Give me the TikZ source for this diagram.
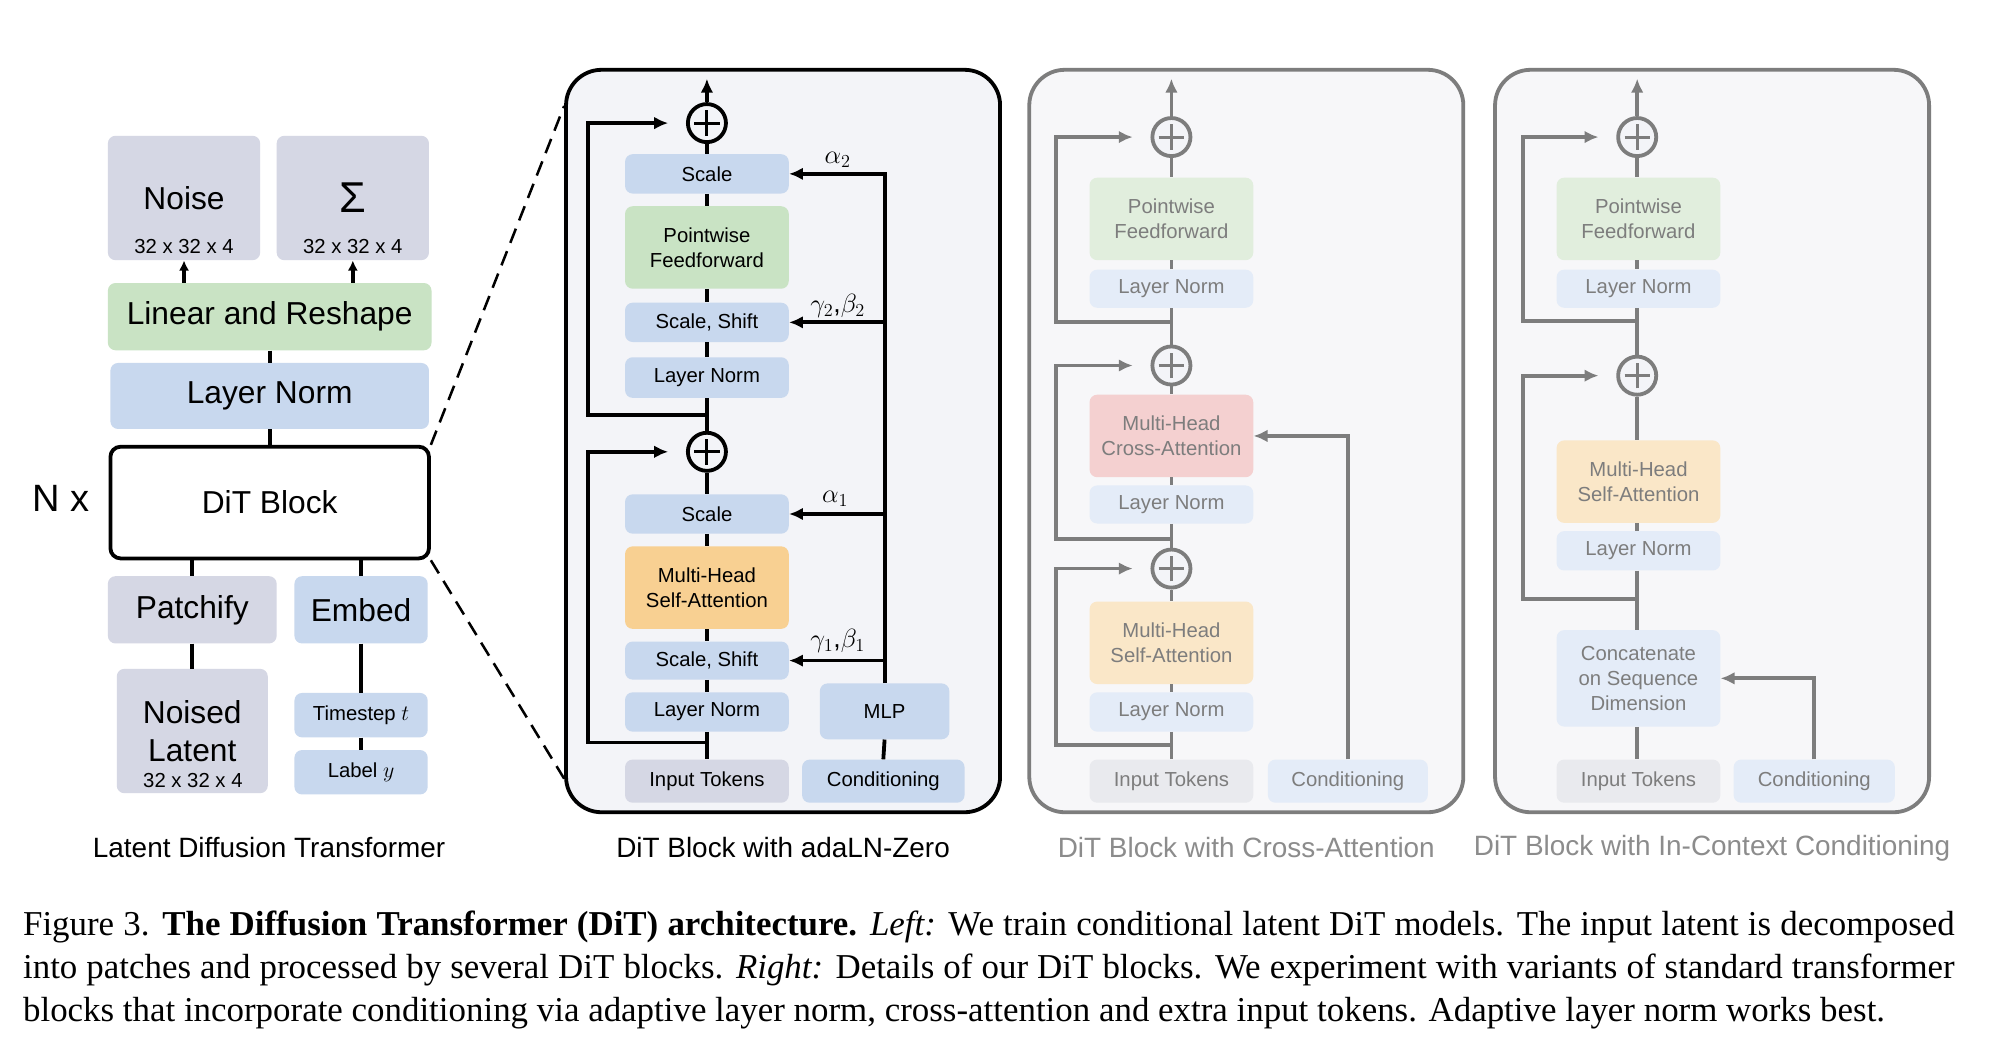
\documentclass[tikz,border=0pt]{standalone}
\usepackage{fontspec}
\setmainfont{Liberation Sans}
\newfontfamily\capfont{Liberation Serif}
\usetikzlibrary{arrows.meta}

\definecolor{grau}{HTML}{D5D7E4}
\definecolor{blau}{HTML}{C8D8EE}
\definecolor{gruen}{HTML}{C9E3C4}
\definecolor{orang}{HTML}{F8D092}
\definecolor{hgrau}{HTML}{E9EAEE}
\definecolor{hblau}{HTML}{E4ECF8}
\definecolor{hgruen}{HTML}{E1EEDD}
\definecolor{horang}{HTML}{FAE7C8}
\definecolor{hrot}{HTML}{F4D0D0}
\definecolor{panelbg}{HTML}{F3F4F8}
\definecolor{hpanelbg}{HTML}{F7F7F9}
\definecolor{linie}{HTML}{7D7D7D}
\definecolor{titelgrau}{HTML}{8C8C8C}

\tikzset{
	blk/.style={rounded corners=6pt, inner sep=0pt, align=center,
		minimum width=129pt, minimum height=31pt,
		font=\fontsize{16}{19.5}\selectfont},
	hoch/.style={minimum height=65pt},
	gross/.style={font=\fontsize{25}{30}\selectfont},
	conn/.style={line width=3pt},
	pfeil/.style={conn, -{Latex[length=11pt,width=10pt]}},
	summe/.style={circle, draw, line width=3pt, minimum size=30pt,
		inner sep=0pt, fill=panelbg, path picture={
			\draw[line width=2.4pt] ([xshift=-10pt]path picture bounding box.center)
				-- ([xshift=10pt]path picture bounding box.center);
			\draw[line width=2.4pt] ([yshift=-10pt]path picture bounding box.center)
				-- ([yshift=10pt]path picture bounding box.center);}},
	panel/.style={draw, line width=3pt, rounded corners=28pt,
		minimum width=342pt, minimum height=585pt},
	titel/.style={font=\fontsize{22}{26}\selectfont},
	zeile/.style={anchor=base west, inner sep=0pt,
		font=\capfont\fontsize{27.5}{33}\selectfont},
}

\begin{document}
\begin{tikzpicture}[x=1pt, y=-1pt]
	% Hintergrund
	\fill[white] (0,0) rectangle (1568,826);
	\useasboundingbox (0,0) rectangle (1568,826);

	% Latent Diffusion Transformer
	\node[blk, gross, fill=grau, minimum width=120pt, minimum height=98pt] (noise) at (145,156) {Noise};
	\node[blk, fill=none] (noiseD) at (145,194) {32 x 32 x 4};
	\node[blk, fill=grau, minimum width=120pt, minimum height=98pt,
		font=\fontsize{34}{40}\selectfont] (sigma) at (278,156) {Σ};
	\node[blk, fill=none] (sigmaD) at (278,194) {32 x 32 x 4};
	\node[blk, gross, fill=gruen, minimum width=255pt, minimum height=53pt] (lin) at (212.5,249.5) {Linear and Reshape};
	\node[blk, gross, fill=blau, minimum width=251pt, minimum height=52pt] (lnL) at (212.5,312) {Layer Norm};
	\node[blk, gross, draw, line width=3pt, rounded corners=8pt, fill=white!96!panelbg,
		minimum width=251pt, minimum height=88pt] (dit) at (212.5,396) {DiT Block};
	\node[font=\fontsize{30}{36}\selectfont] (nx) at (48,393) {N x};
	\node[blk, gross, fill=grau, minimum width=133pt, minimum height=53pt] (patch) at (151.5,480.5) {Patchify};
	\node[blk, gross, fill=blau, minimum width=105pt, minimum height=53pt] (embed) at (284.5,480.5) {Embed};
	\node[blk, gross, fill=grau, minimum width=119pt, minimum height=98pt] (latent) at (151.5,576) {Noised\\Latent};
	\node[blk, fill=none] (latentD) at (152,615) {32 x 32 x 4};
	\node[blk, fill=blau, minimum width=105pt, minimum height=35pt] (ts) at (284.5,563.5) {Timestep $t$};
	\node[blk, fill=blau, minimum width=105pt, minimum height=35pt] (lab) at (284.5,608.5) {Label $y$};
	\node[titel] (t1) at (212,668) {Latent Diffusion Transformer};
	% Verbindungen links
	\foreach \z in {noise,sigma}
		\draw[conn, -{Latex[length=8pt,width=8pt]}] (\z.south |- lin.north) -- (\z.south);
	\draw[conn] (lin.south) -- (lnL.north);
	\draw[conn] (lnL.south) -- (dit.north);
	\draw[conn] (patch.north |- dit.south) -- (patch.north);
	\draw[conn] (embed.north |- dit.south) -- (embed.north);
	\draw[conn] (patch.south) -- (latent.north);
	\draw[conn] (embed.south) -- (ts.north);
	\draw[conn] (ts.south) -- (lab.north);

	% DiT Block mit adaLN-Zero
	\node[panel, fill=panelbg] (p2) at (617,347.5) {};
	\draw[conn, dashed, dash pattern=on 12pt off 7pt, line width=2pt] (dit.north east) -- ([yshift=-30pt]p2.north west);
	\draw[conn, dashed, dash pattern=on 12pt off 7pt, line width=2pt] (dit.south east) -- ([yshift=28pt]p2.south west);
	\node[summe] (s2) at (557,97) {};
	\node[blk, fill=blau] (sc2) at (557,137) {Scale};
	\node[blk, hoch, fill=gruen] (ff) at (557,195) {Pointwise\\Feedforward};
	\node[blk, fill=blau] (ss2) at (557,254) {Scale, Shift};
	\node[blk, fill=blau, minimum height=32pt] (ln2) at (557,297.5) {Layer Norm};
	\node[summe] (s1) at (557,356) {};
	\node[blk, fill=blau] (sc1) at (557,405) {Scale};
	\node[blk, hoch, fill=orang] (msa) at (557,463) {Multi-Head\\Self-Attention};
	\node[blk, fill=blau, minimum height=30pt] (ss1) at (557,520.5) {Scale, Shift};
	\node[blk, fill=blau] (ln1) at (557,561) {Layer Norm};
	\node[blk, fill=grau, minimum height=34pt] (tok) at (557,615.5) {Input Tokens};
	\node[blk, fill=blau, minimum width=102pt, minimum height=44pt] (mlp) at (697,560.5) {MLP};
	\node[blk, fill=blau, minimum width=128pt, minimum height=34pt] (cond) at (696,615.5) {Conditioning};
	\node[font=\fontsize{21}{25}\selectfont] (la2) at (660,126) {$\alpha_2$};
	\node[font=\fontsize{21}{25}\selectfont] (lg2) at (660,241) {$\gamma_2$,$\beta_2$};
	\node[font=\fontsize{21}{25}\selectfont] (la1) at (658,393) {$\alpha_1$};
	\node[font=\fontsize{21}{25}\selectfont] (lg1) at (660,505) {$\gamma_1$,$\beta_1$};
	\node[titel] (t2) at (617,668) {DiT Block with adaLN-Zero};
	% Hauptpfad
	\coordinate (aus2) at (557,62);
	\draw[pfeil] (s2.north) -- (aus2);
	\draw[conn] (s2.south) -- (sc2.north);
	\draw[conn] (sc2.south) -- (ff.north);
	\draw[conn] (ff.south) -- (ss2.north);
	\draw[conn] (ss2.south) -- (ln2.north);
	\draw[conn] (ln2.south) -- (s1.north);
	\draw[conn] (s1.south) -- (sc1.north);
	\draw[conn] (sc1.south) -- (msa.north);
	\draw[conn] (msa.south) -- (ss1.north);
	\draw[conn] (ss1.south) -- (ln1.north);
	\draw[conn] (ln1.south) -- (tok.north);
	% Residuen
	\coordinate (r2) at (557,327);
	\coordinate (r2l) at (463,327);
	\draw[pfeil, shorten >=14pt] (r2) -- (r2l) |- (s2.west);
	\coordinate (r1) at (557,585);
	\coordinate (r1l) at (463,585);
	\draw[pfeil, shorten >=14pt] (r1) -- (r1l) |- (s1.west);
	% Konditionierung
	\draw[conn] (cond.north) -- (mlp.south);
	\draw[pfeil] (mlp.north) |- (sc2.east);
	\foreach \z in {ss2,sc1,ss1}
		\draw[pfeil] (mlp.north |- \z.east) -- (\z.east);

	% DiT Block mit Cross-Attention
	\begin{scope}[color=linie]
	\node[panel, fill=hpanelbg] (p3) at (982,347.5) {};
	\node[summe] (c3) at (923,108) {};
	\node[blk, hoch, fill=hgruen] (ffC) at (923,172.5) {Pointwise\\Feedforward};
	\node[blk, fill=hblau, minimum height=30pt] (lnC3) at (923,227.5) {Layer Norm};
	\node[summe] (c2) at (923,288) {};
	\node[blk, hoch, fill=hrot] (xat) at (923,343.5) {Multi-Head\\Cross-Attention};
	\node[blk, fill=hblau, minimum height=30pt] (lnC2) at (923,397.5) {Layer Norm};
	\node[summe] (c1) at (923,448) {};
	\node[blk, hoch, fill=horang] (satC) at (923,506.5) {Multi-Head\\Self-Attention};
	\node[blk, fill=hblau] (lnC1) at (923,561) {Layer Norm};
	\node[blk, fill=hgrau, minimum height=34pt] (tokC) at (923,615.5) {Input Tokens};
	\node[blk, fill=hblau, minimum width=126pt, minimum height=34pt] (condC) at (1062,615.5) {Conditioning};
	\node[titel, text=titelgrau] (t3) at (982,668) {DiT Block with Cross-Attention};
	\coordinate (aus3) at (923,62);
	\draw[pfeil] (c3.north) -- (aus3);
	\draw[conn] (c3.south) -- (ffC.north);
	\draw[conn] (ffC.south) -- (lnC3.north);
	\draw[conn] (lnC3.south) -- (c2.north);
	\draw[conn] (c2.south) -- (xat.north);
	\draw[conn] (xat.south) -- (lnC2.north);
	\draw[conn] (lnC2.south) -- (c1.north);
	\draw[conn] (c1.south) -- (satC.north);
	\draw[conn] (satC.south) -- (lnC1.north);
	\draw[conn] (lnC1.south) -- (tokC.north);
	\coordinate (q3) at (923,254);
	\coordinate (q3l) at (832,254);
	\draw[pfeil, shorten >=14pt] (q3) -- (q3l) |- (c3.west);
	\coordinate (q2) at (923,425);
	\coordinate (q2l) at (832,425);
	\draw[pfeil, shorten >=14pt] (q2) -- (q2l) |- (c2.west);
	\coordinate (q1) at (923,587);
	\coordinate (q1l) at (832,587);
	\draw[pfeil, shorten >=14pt] (q1) -- (q1l) |- (c1.west);
	\draw[pfeil] (condC.north) |- (xat.east);
	\end{scope}

	% DiT Block mit In-Context Conditioning
	\begin{scope}[color=linie]
	\node[panel, fill=hpanelbg] (p4) at (1349,347.5) {};
	\node[summe] (d2) at (1290,108) {};
	\node[blk, hoch, fill=hgruen] (ffD) at (1291,172.5) {Pointwise\\Feedforward};
	\node[blk, fill=hblau, minimum height=30pt] (lnD2) at (1291,227.5) {Layer Norm};
	\node[summe] (d1) at (1290,296) {};
	\node[blk, hoch, fill=horang] (satD) at (1291,379.5) {Multi-Head\\Self-Attention};
	\node[blk, fill=hblau] (lnD1) at (1291,434) {Layer Norm};
	\node[blk, fill=hblau, minimum height=76pt] (cat) at (1291,534.5) {Concatenate\\on Sequence\\Dimension};
	\node[blk, fill=hgrau, minimum height=34pt] (tokD) at (1291,615.5) {Input Tokens};
	\node[blk, fill=hblau, minimum width=127pt, minimum height=34pt] (condD) at (1429.5,615.5) {Conditioning};
	\node[titel, text=titelgrau] (t4) at (1349,668) {DiT Block with In-Context Conditioning};
	\coordinate (aus4) at (1290,62);
	\draw[pfeil] (d2.north) -- (aus4);
	\draw[conn] (d2.south) -- (ffD.north -| d2.south);
	\draw[conn] (ffD.south -| d2.south) -- (lnD2.north -| d2.south);
	\draw[conn] (lnD2.south -| d2.south) -- (d1.north);
	\draw[conn] (d1.south) -- (satD.north -| d1.south);
	\draw[conn] (satD.south -| d1.south) -- (lnD1.north -| d1.south);
	\draw[conn] (lnD1.south -| d1.south) -- (cat.north -| d1.south);
	\draw[conn] (cat.south -| d1.south) -- (tokD.north -| d1.south);
	\coordinate (e2) at (1290,253);
	\coordinate (e2l) at (1200,253);
	\draw[pfeil, shorten >=14pt] (e2) -- (e2l) |- (d2.west);
	\coordinate (e1) at (1290,472);
	\coordinate (e1l) at (1200,472);
	\draw[pfeil, shorten >=14pt] (e1) -- (e1l) |- (d1.west);
	\draw[pfeil] (condD.north) |- (cat.east);
	\end{scope}

	% Bildunterschrift
	\node[zeile] (cap1) at (18,737.5)
		{\makebox[1522pt][s]{Figure 3. \textbf{The Diffusion Transformer (DiT) architecture.} \textit{Left:} We train conditional latent DiT models. The input latent is decomposed}};
	\node[zeile] (cap2) at (18,771)
		{\makebox[1522pt][s]{into patches and processed by several DiT blocks. \textit{Right:} Details of our DiT blocks. We experiment with variants of standard transformer}};
	\node[zeile] (cap3) at (18,805)
		{blocks that incorporate conditioning via adaptive layer norm, cross-attention and extra input tokens. Adaptive layer norm works best.};
\end{tikzpicture}
\end{document}
